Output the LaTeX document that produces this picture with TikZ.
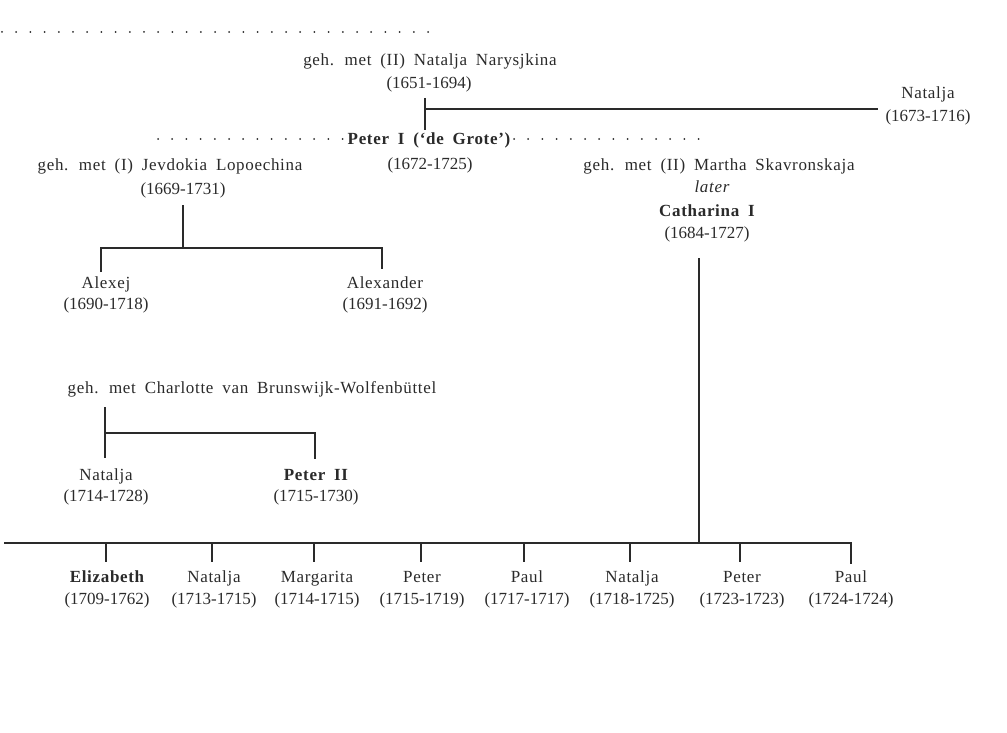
\documentclass[tikz,border=0pt]{standalone}
\usepackage{fontspec}
\setmainfont{Liberation Serif}[LetterSpace=4,WordSpace=1.8]
\newfontfamily\dtfont{Liberation Serif}
\definecolor{ink}{HTML}{2A2A2A}
\newcommand\sz{\fontsize{17}{21}\selectfont}
\begin{document}
\begin{tikzpicture}[x=1pt,y=-1pt,
  every node/.style={inner sep=0pt, text=ink, font=\sz, anchor=base},
  dt/.style={font=\sz\dtfont},
  nm/.style={font=\sz\bfseries},
  it/.style={font=\sz\itshape},
  ln/.style={draw=ink, line width=1.7pt},
  dots/.style={draw=ink, line width=2pt, line cap=round, dash pattern=on 0pt off 14.2pt}]
\useasboundingbox (0,0) rectangle (1007,733);

% top generation
\node (nar) at (430,66) {geh. met (II) Natalja Narysjkina};
\node[dt] (nard) at (429,89) {(1651-1694)};
\node (nat0) at (928,99) {Natalja};
\node[dt] (nat0d) at (928,122) {(1673-1716)};
\node[nm] (p1) at (429,145) {Peter I (‘de Grote’)};
\node[dt] (p1d) at (430,169) {(1672-1725)};

% wives of Peter I
\node (jev) at (170,171) {geh. met (I) Jevdokia Lopoechina};
\node[dt] (jevd) at (183,194) {(1669-1731)};
\node (mar) at (719,171) {geh. met (II) Martha Skavronskaja};
\node[it] (later) at (712,193) {later};
\node[nm] (cat) at (707,216) {Catharina I};
\node[dt] (catd) at (707,238) {(1684-1727)};

% children of Jevdokia
\node (alx) at (106,288) {Alexej};
\node[dt] (alxd) at (106,309) {(1690-1718)};
\node (ald) at (385,288) {Alexander};
\node[dt] (aldd) at (385,309) {(1691-1692)};

% Alexej's marriage
\node (cha) at (252,393) {geh. met Charlotte van Brunswijk-Wolfenbüttel};
\node (nat1) at (106,480) {Natalja};
\node[dt] (nat1d) at (106,501) {(1714-1728)};
\node[nm] (p2) at (316,480) {Peter II};
\node[dt] (p2d) at (316,501) {(1715-1730)};

% children of Catharina
\node[nm] (k1) at (107,582) {Elizabeth};
\node[dt] (k1d) at (107,604) {(1709-1762)};
\node (k2) at (214,582) {Natalja};
\node[dt] (k2d) at (214,604) {(1713-1715)};
\node (k3) at (317,582) {Margarita};
\node[dt] (k3d) at (317,604) {(1714-1715)};
\node (k4) at (422,582) {Peter};
\node[dt] (k4d) at (422,604) {(1715-1719)};
\node (k5) at (527,582) {Paul};
\node[dt] (k5d) at (527,604) {(1717-1717)};
\node (k6) at (632,582) {Natalja};
\node[dt] (k6d) at (632,604) {(1718-1725)};
\node (k7) at (742,582) {Peter};
\node[dt] (k7d) at (742,604) {(1723-1723)};
\node (k8) at (851,582) {Paul};
\node[dt] (k8d) at (851,604) {(1724-1724)};

% dotted lines
\coordinate (d1a) at (2,32);   \coordinate (d1b) at (428,32);
\coordinate (d2a) at (158,139); \coordinate (d2b) at (343,139);
\coordinate (d3a) at (514,139); \coordinate (d3b) at (712,139);
\draw[dots] (d1a) -- (d1b);
\draw[dots] (d2a) -- (d2b);
\draw[dots] (d3a) -- (d3b);

% Narysjkina -> Peter I, Natalja
\coordinate (n1) at (425,98); \coordinate (n2) at (425,130); \coordinate (n3) at (425,109);
\draw[ln] (n1) -- (n2);
\draw[ln] (n3) -- (878,109) coordinate (n4);

% Jevdokia -> Alexej, Alexander
\coordinate (j1) at (183,205); \coordinate (j2) at (183,248);
\draw[ln] (j1) -- (j2);
\draw[ln] (101,272) coordinate (j3) |- (382,248) coordinate (j4) -- (382,269) coordinate (j5);

% Charlotte -> Natalja, Peter II
\coordinate (c1) at (105,407); \coordinate (c2) at (105,458);
\draw[ln] (c1) -- (c2);
\draw[ln] (105,433) coordinate (c3) -- (315,433) coordinate (c4) -- (315,459) coordinate (c5);

% Catharina -> children
\coordinate (m1) at (699,258); \coordinate (m2) at (699,543);
\draw[ln] (m1) -- (m2);
\coordinate (bar0) at (4,543);
\draw[ln] (bar0) -- (851,543) coordinate (bar8) -- (851,564);
\foreach \k/\x in {k1/106,k2/212,k3/314,k4/421,k5/524,k6/630,k7/740}
  \draw[ln] (\x,543) -- (\x,562);
\end{tikzpicture}
\end{document}
